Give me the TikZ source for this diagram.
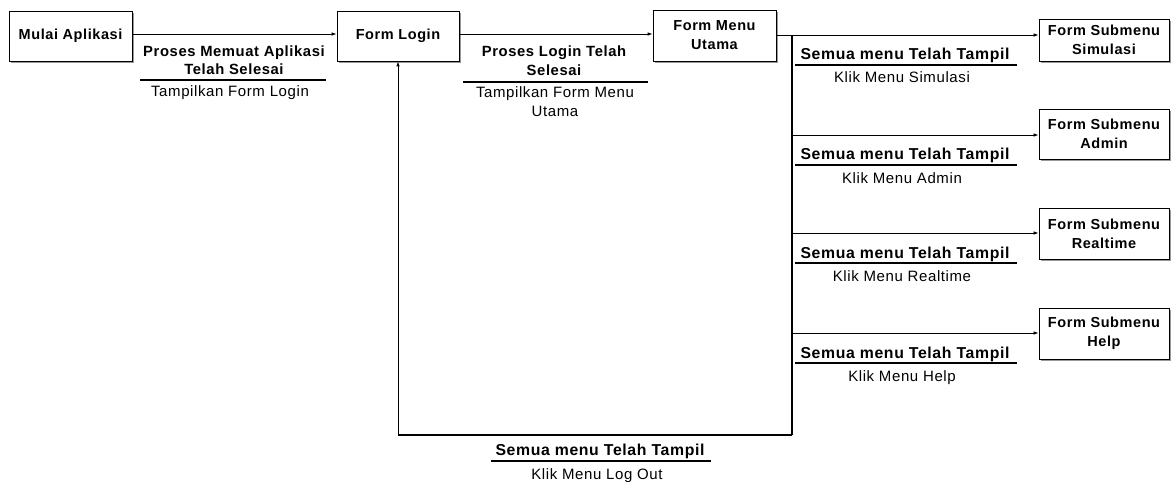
\documentclass[tikz,border=0pt]{standalone}
\usepackage{fontspec}
\setmainfont{Liberation Sans}[LetterSpace=4]
\usetikzlibrary{arrows.meta,backgrounds}
\begin{document}
\begin{tikzpicture}[x=1pt,y=-1pt,
  box/.style={draw=black, line width=0.8pt, fill=white, inner sep=0pt,
    align=center, font=\fontsize{14.5}{19}\selectfont\bfseries},
  shadowfill/.style={fill=black!40},
  bl/.style={anchor=base, inner sep=0pt, font=\fontsize{14.8}{19}\selectfont\bfseries},
  bls/.style={anchor=base, inner sep=0pt, font=\fontsize{15.8}{19}\selectfont\bfseries},
  rl/.style={anchor=base, inner sep=0pt, font=\fontsize{15}{19}\selectfont},
  uline/.style={line width=2pt},
  arr/.style={line width=0.8pt, -{Latex[length=5pt,width=3.5pt]}},
  thin/.style={line width=0.8pt},
  thick/.style={line width=2pt}]
\useasboundingbox (0,0) rectangle (1172,484);

% boxes
\node[box, minimum width=123pt, minimum height=50pt] (mulai) at (70.5,36) {Mulai Aplikasi};
\node[box, minimum width=122pt, minimum height=50pt] (login) at (398,36) {Form Login};
\node[box, minimum width=123pt, minimum height=51pt] (menu) at (714.5,35.5) {Form Menu\\Utama};
\node[box, minimum width=130pt, minimum height=42pt] (sim) at (1104,40) {Form Submenu\\Simulasi};
\node[box, minimum width=130pt, minimum height=50pt] (adm) at (1104,134) {Form Submenu\\Admin};
\node[box, minimum width=130pt, minimum height=51pt] (rt) at (1104,233.5) {Form Submenu\\Realtime};
\node[box, minimum width=130pt, minimum height=51pt] (hlp) at (1104,333.5) {Form Submenu\\Help};

\begin{scope}[on background layer]
  \foreach \n in {mulai,login,menu,sim,adm,rt,hlp}{
    \fill[shadowfill] ([xshift=2pt,yshift=-2pt]\n.south west) rectangle ([xshift=2pt,yshift=-2pt]\n.north east);
  }
\end{scope}

% junctions
\coordinate (j0) at (792,35);
\coordinate (j1) at (792,135);
\coordinate (j2) at (792,233);
\coordinate (j3) at (792,333);
\coordinate (jb) at (792,435);
\coordinate (jl) at (398,435);

% connectors
\draw[arr] ([yshift=2pt]mulai.east) -- ([yshift=2pt]login.west);
\draw[arr] ([yshift=2pt]login.east) -- ([yshift=2pt]login.east -| menu.west);
\draw[thin] (menu.east |- j0) -- (j0);
\draw[thick] (j0) -- (jb);
\draw[arr] (j0) -- (sim.west |- j0);
\draw[arr] (j1) -- (adm.west |- j1);
\draw[arr] (j2) -- (rt.west |- j2);
\draw[arr] (j3) -- (hlp.west |- j3);
\draw[line width=1.4pt] (jb) -- (jl);
\draw[arr] (jl) -- (login.south);

% label 1
\node[bl] (l1a) at (234,57) {Proses Memuat Aplikasi};
\node[bl] (l1b) at (234,75) {Telah Selesai};
\draw[uline] (140,80) -- (326,80);
\node[rl] (l1c) at (230,97) {Tampilkan Form Login};

% label 2
\node[bl] (l2a) at (554,57) {Proses Login Telah};
\node[bl] (l2b) at (554,76) {Selesai};
\draw[uline] (463,82) -- (648,82);
\node[rl] (l2c) at (555,98) {Tampilkan Form Menu};
\node[rl] (l2d) at (555,117) {Utama};

% side labels
\foreach \yy/\tt/\nn in {35/Simulasi/s, 135/Admin/a, 233/Realtime/r, 333/Help/h}{
  \node[bls] (sb\nn) at (905,\yy+25) {Semua menu Telah Tampil};
  \draw[uline] (795,\yy+30) -- (1017,\yy+30);
  \node[rl] (sk\nn) at (902,\yy+48) {Klik Menu \tt};
}

% bottom label
\node[bls] (bb) at (600,455) {Semua menu Telah Tampil};
\draw[uline] (491,461) -- (711,461);
\node[rl] (bk) at (597,479) {Klik Menu Log Out};
\end{tikzpicture}
\end{document}
